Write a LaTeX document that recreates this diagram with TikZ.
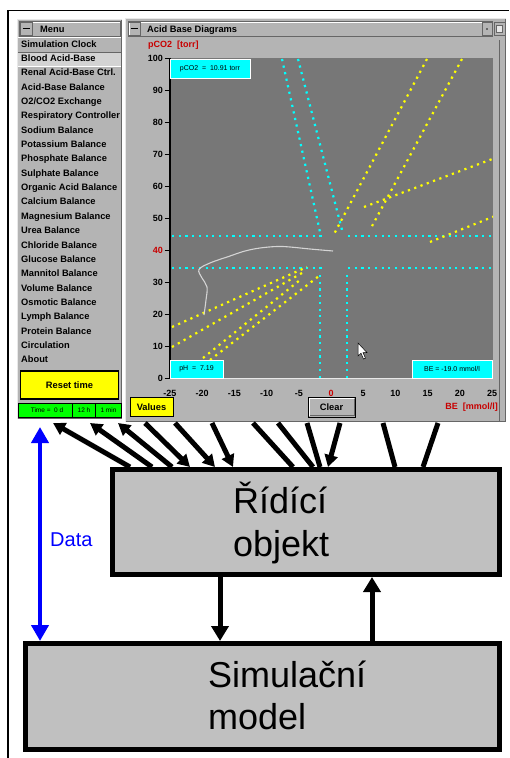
\documentclass[tikz,border=0pt]{standalone}
\usepackage{fontspec}
\setmainfont{Liberation Sans}
\usetikzlibrary{arrows.meta}
\definecolor{wingray}{HTML}{B4B4B4}
\definecolor{plotgray}{HTML}{777777}
\definecolor{lite}{HTML}{E8E8E8}
\definecolor{dark}{HTML}{666666}
\definecolor{boxgray}{HTML}{C0C0C0}
\definecolor{cyanc}{HTML}{00FFFF}
\definecolor{yel}{HTML}{FFFF00}
\definecolor{grn}{HTML}{00FF00}
\definecolor{redlab}{HTML}{C80000}
\definecolor{blu}{HTML}{0000FF}
\definecolor{curvec}{HTML}{D4D4D4}
\tikzset{
  gui/.style={inner sep=0pt, font=\fontsize{9.3}{10}\selectfont\bfseries},
  menuitem/.style={gui, anchor=base west},
  ticklab/.style={inner sep=0pt, font=\fontsize{9}{9}\selectfont\bfseries},
  infotext/.style={inner sep=0pt, font=\fontsize{7}{8}\selectfont},
  statustext/.style={inner sep=0pt, font=\fontsize{6.5}{7}\selectfont},
  cyandot/.style={cyanc, line width=2.2pt, dash pattern=on 2.2pt off 4.5pt},
  yeldot/.style={yel, line width=2.2pt, dash pattern=on 2.2pt off 4.5pt},
  bigbox/.style={draw=black, line width=5pt, fill=boxgray, inner sep=0pt},
  bigtext/.style={inner sep=0pt, anchor=base west, font=\fontsize{36}{43}\selectfont},
  conn/.style={line width=5pt, black},
  headend/.style={-{Triangle[length=12pt,width=13pt]}},
  headstart/.style={{Triangle[length=12pt,width=13pt]}-},
  infobox/.style={fill=cyanc, draw=white, line width=0.8pt},
}
\begin{document}
\begin{tikzpicture}[x=1pt,y=-1pt]
\useasboundingbox (0,0) rectangle (509,758);
\fill[white] (0,0) rectangle (509,758);
% outer frame
\draw[line width=1.5pt] (8,758) -- (8,10.5) -- (509,10.5);

% ===== Menu window =====
\fill[wingray] (17,19) rectangle (122,419);
\draw[lite, line width=1pt] (17.5,419) -- (17.5,19.5) -- (122,19.5);
\draw[dark, line width=1pt] (121.5,19.5) -- (121.5,418.5) -- (17.5,418.5);
\draw[dark, line width=0.8pt] (19.5,21.5) rectangle (120.5,36);
\draw[white, line width=0.8pt] (20.5,35) -- (20.5,22.5) -- (119.5,22.5);
\draw[dark, line width=0.8pt] (20,22) rectangle (32.5,35.5);
\draw[line width=1.6pt] (22.5,28.5) -- (30,28.5);
\node[menuitem] (menutitle) at (40,32) {Menu};
\draw[white, line width=1pt] (18,37.5) -- (121,37.5);
\fill[lite!60!wingray] (18,52) rectangle (121,66);
\draw[dark, line width=1pt] (18,52) -- (121,52);
\draw[white, line width=1pt] (18,66) -- (121,66);
\foreach \t [count=\i from 0] in {Simulation Clock, Blood Acid-Base, Renal Acid-Base Ctrl., Acid-Base Balance, O2/CO2 Exchange, Respiratory Controller, Sodium Balance, Potassium Balance, Phosphate Balance, Sulphate Balance, Organic Acid Balance, Calcium Balance, Magnesium Balance, Urea Balance, Chloride Balance, Glucose Balance, Mannitol Balance, Volume Balance, Osmotic Balance, Lymph Balance, Protein Balance, Circulation, About}
  \node[menuitem] (mi\i) at (21,{47.1+14.35*\i}) {\t};
\node[draw=black, line width=1.5pt, fill=yel, minimum width=98pt, minimum height=28pt, gui] (reset) at (69.5,385) {Reset time};
\node[draw=black, line width=0.8pt, fill=grn, minimum width=103pt, minimum height=14pt, inner sep=0pt] (status) at (69.5,410.5) {};
\draw[line width=0.8pt] (72,403.5) -- (72,417.5) (95,403.5) -- (95,417.5);
\node[statustext] (st1) at (47,410.5) {Time =\ \ 0 d};
\node[statustext] (st2) at (84,410.5) {12 h};
\node[statustext] (st3) at (108.5,410.5) {1 min};

% ===== Acid Base Diagrams window =====
\fill[wingray] (125,18) rectangle (506,422);
\draw[lite, line width=1pt] (125.5,422) -- (125.5,18.5) -- (506,18.5);
\draw[dark, line width=1pt] (505.5,18.5) -- (505.5,421.5) -- (125.5,421.5);
\draw[dark, line width=0.8pt] (128,21.5) rectangle (492,36);
\draw[white, line width=0.8pt] (129,35) -- (129,22.5) -- (491,22.5);
\draw[dark, line width=0.8pt] (128.5,22) rectangle (140.5,35.5);
\draw[line width=1.4pt] (130.5,28.5) -- (138,28.5);
\draw[dark, line width=0.8pt] (482,22.5) rectangle (492,35);
\fill[dark] (486.3,28) rectangle (487.8,29.5);
\draw[dark, line width=0.8pt] (494,22) rectangle (505,35.5);
\draw[dark, fill=lite, line width=0.8pt] (496.5,25) rectangle (502.5,32);
\node[menuitem] (acidtitle) at (147,32) {Acid Base Diagrams};
\node[gui, anchor=base west, text=redlab, font=\fontsize{9}{9}\selectfont\bfseries] (ylab) at (148,47.5) {pCO2\ \ [torr]};
\draw[dark, line width=1pt] (499.5,40) -- (499.5,422);

% plot area
\fill[plotgray] (170,58) rectangle (493,378);
\begin{scope}
\clip (170,58) rectangle (493,378);
% cyan dotted lines
\draw[cyandot] (172,236) -- (322,236);
\draw[cyandot] (348,236) -- (493,236);
\draw[cyandot] (172,268) -- (322,268);
\draw[cyandot] (348,268) -- (493,268);
\draw[cyandot] (282,59) -- (320,232);
\draw[cyandot] (298,59) -- (342,230);
\draw[cyandot] (320,275) -- (320,380);
\draw[cyandot] (347,275) -- (347,380);
% yellow dotted lines
\draw[yeldot] (427,59) -- (333,236);
\draw[yeldot] (462,59) -- (371,228);
\draw[yeldot] (364,207) -- (495,158);
\draw[yeldot] (430,242) -- (495,216);
\draw[yeldot] (172,327) -- (307,267);
\draw[yeldot] (172,347) -- (302,273);
\draw[yeldot] (203,358) -- (300,280);
\draw[yeldot] (210,360) -- (319,276);
% trajectory curve
\draw[curvec, line width=1.1pt] plot[smooth, tension=0.6] coordinates {(333,251) (310,249) (290,247) (277,246.5) (260,248) (245,251) (230,256) (210,263) (199,269.5) (202,278) (207,287) (206,300) (204,315)};
\end{scope}
\draw[lite, line width=1.2pt] (170,378.6) -- (493,378.6);
\draw[black, line width=1.5pt] (170,57.5) -- (170,378);
% y ticks
\foreach \v/\c in {0/black,10/black,20/black,30/black,40/redlab,50/black,60/black,70/black,80/black,90/black,100/black} {
  \draw[line width=1pt] (164.5,{378-3.2*\v}) -- (169.5,{378-3.2*\v});
  \node[ticklab, anchor=east, text=\c] (yt\v) at (163,{378-3.2*\v}) {\v};
}
% x ticks
\foreach \b/\c in {-25/black,-20/black,-15/black,-10/black,-5/black,0/redlab,5/black,10/black,15/black,20/black,25/black} {
  \node[ticklab, text=\c] (xt\b) at ({331+6.44*\b},393.5) {\b};
}
% info boxes
\node[infobox, minimum width=80pt, minimum height=19pt, inner sep=0pt] (pco2box) at (210,68.5) {};
\node[infotext] (pco2txt) at (pco2box) {pCO2\ \ =\ \ 10.91 torr};
\node[infobox, minimum width=53pt, minimum height=18pt, inner sep=0pt] (phbox) at (196.5,369) {};
\node[infotext] (phtxt) at (phbox) {pH\ \ =\ \ 7.19};
\node[infobox, minimum width=80pt, minimum height=18pt, inner sep=0pt] (bebox) at (452,369) {};
\node[infotext] (betxt) at (bebox) {BE\ =\ -19.0 mmol/l};
% mouse pointer
\draw[black, fill=white, line width=0.5pt] (358,343) -- (358,356) -- (361,353.2) -- (363.5,359) -- (365.5,358.2) -- (363,352.6) -- (367,352.6) -- cycle;
% bottom buttons
\node[draw=black, line width=0.8pt, fill=yel, minimum width=43pt, minimum height=19pt, gui] (values) at (151.5,407) {Values};
\node[draw=black, line width=0.8pt, fill=wingray, minimum width=47pt, minimum height=20pt, gui] (clear) at (331.5,407) {Clear};
\draw[white, line width=1pt] (309.5,415.5) -- (309.5,398.5) -- (354,398.5);
\draw[dark, line width=1pt] (354,398.5) -- (354,415.5) -- (309.5,415.5);
\node[gui, anchor=east, text=redlab, font=\fontsize{9}{9}\selectfont\bfseries] (xlab) at (498,407.5) {BE\ \ [mmol/l]};

% ===== lower diagram =====
\node[bigbox, minimum width=387pt, minimum height=105pt] (ctrl) at (306,522) {};
\node[bigtext] (ctrl1) at (233,513) {Řídící};
\node[bigtext] (ctrl2) at (233,556) {objekt};
\node[bigbox, minimum width=474pt, minimum height=106pt] (sim) at (262.5,696.5) {};
\node[bigtext] (sim1) at (208,687) {Simulační};
\node[bigtext] (sim2) at (208,729) {model};

% vertical arrows between boxes
\coordinate (dnx) at (220,0);
\coordinate (upx) at (372,0);
\draw[conn, -{Triangle[length=15pt,width=17pt]}] (ctrl.south -| dnx) -- (sim.north -| dnx);
\draw[conn, -{Triangle[length=15pt,width=17pt]}] (sim.north -| upx) -- (ctrl.south -| upx);

% Data arrow
\coordinate (dtop) at (40,427);
\draw[blu, line width=4pt, {Triangle[length=16pt,width=17pt]}-{Triangle[length=16pt,width=17pt]}] (dtop) -- (sim.north -| dtop);
\node[inner sep=0pt, anchor=base west, text=blu, font=\fontsize{20}{20}\selectfont] (data) at (50,546) {Data};

% connectors from GUI to control object
\foreach \n/\xa/\xb in {1/53/130, 2/90/152, 3/118/172, 4/145/190, 5/175/215, 6/212/233, 7/253/293, 8/278/313, 9/307/320, 10/340/328, 11/383/395, 12/438/423} {
  \coordinate (w\n) at (\xa,423);
  \coordinate (b\n) at (\xb,467);
}
\draw[conn, headstart] (w1) -- (b1);
\draw[conn, headstart] (w2) -- (b2);
\draw[conn, headstart] (w3) -- (b3);
\draw[conn, headend] (w4) -- (b4);
\draw[conn, headend] (w5) -- (b5);
\draw[conn, headend] (w6) -- (b6);
\draw[conn] (w7) -- (b7);
\draw[conn] (w8) -- (b8);
\draw[conn] (w9) -- (b9);
\draw[conn, headend] (w10) -- (b10);
\draw[conn] (w11) -- (b11);
\draw[conn] (w12) -- (b12);
\end{tikzpicture}
\end{document}
